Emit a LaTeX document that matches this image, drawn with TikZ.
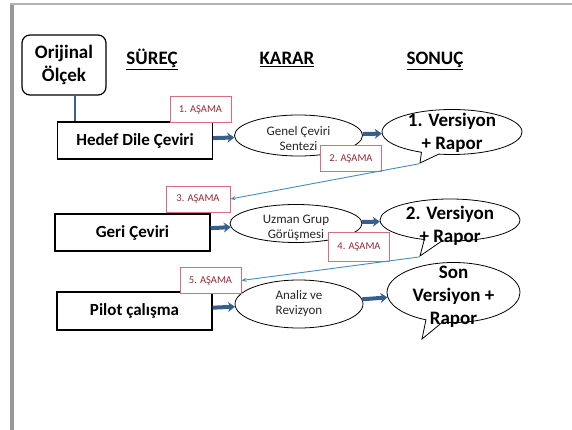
\documentclass[tikz,border=0pt]{standalone}
\usepackage{fontspec}
\setmainfont{Carlito}
\usetikzlibrary{shapes,arrows.meta,positioning,calc}

\definecolor{flowblue}{RGB}{55,95,140}
\definecolor{linkblue}{RGB}{70,140,185}
\definecolor{stagered}{RGB}{215,110,125}
\definecolor{stagetext}{RGB}{150,40,50}

\begin{document}
\begin{tikzpicture}[x=1pt, y=-1pt,
    origin/.style={draw, rounded corners=8pt, line width=1.2pt, minimum width=84pt, minimum height=60pt, inner sep=0pt, align=center, font=\fontsize{19}{23}\selectfont\bfseries},
    header/.style={anchor=base, font=\fontsize{19}{23}\selectfont\bfseries},
    stepbox/.style={draw, line width=1.1pt, minimum width=155pt, minimum height=37pt, inner sep=0pt, font=\fontsize{17}{20}\selectfont\bfseries},
    decision/.style={draw, ellipse, line width=0.8pt, inner sep=0pt, minimum width=128pt, minimum height=41pt},
    dtext/.style={font=\fontsize{13}{15}\selectfont, text=black!85, align=center},
    result/.style={draw, ellipse callout, line width=0.8pt, inner sep=0pt, minimum width=140pt, minimum height=45pt},
    rtext/.style={font=\fontsize{19}{23}\selectfont\bfseries, align=center},
    stage/.style={draw=stagered, fill=white, line width=0.8pt, inner sep=0pt, minimum width=61pt, minimum height=26pt, text=stagetext, font=\fontsize{10.5}{11}\selectfont},
    flow/.style={-{Stealth[length=7pt,width=10pt]}, line width=4pt, draw=flowblue},
    link/.style={-{Stealth[length=5pt,width=4pt]}, line width=0.9pt, draw=linkblue},
]
\useasboundingbox (0,0) rectangle (572,430);

% slide frame
\draw[line width=4pt, black!40] (11.5,430) -- (11.5,4);
\draw[line width=2.5pt, black!30] (10,4) -- (572,4);

% Headers
\node[origin] (orj) at (64,65) {Orijinal\\Ölçek};
\node[header] (surec) at (152,65) {\underline{SÜREÇ}};
\node[header] (karar) at (287,65) {\underline{KARAR}};
\node[header] (sonuc) at (435,65) {\underline{SONUÇ}};

% Process
\node[stepbox] (hedef) at (135,140.5) {Hedef Dile Çeviri};
\node[stepbox] (geri) at (132.5,232.5) {Geri Çeviri};
\node[stepbox, minimum height=38pt] (pilot) at (134.5,311) {Pilot çalışma};

% Decision
\node[decision, minimum height=41pt, label={[dtext, yshift=-3pt]center:Genel Çeviri\\Sentezi}] (gen) at (298.5,135.5) {};
\node[decision, minimum width=132pt, minimum height=38pt, label={[dtext, yshift=-4pt]center:Uzman Grup\\Görüşmesi}] (uzm) at (296,223.5) {};
\node[decision, minimum height=48pt, label={[dtext]center:Analiz ve\\Revizyon}] (anl) at (299,304) {};

% Result
\node[result, callout absolute pointer={(420,163)}, label={[rtext, yshift=-1pt]center:1. Versiyon\\+ Rapor}] (v1) at (452,132) {};
\node[result, minimum height=42pt, callout absolute pointer={(420,256)}, label={[rtext, yshift=-6pt]center:2. Versiyon\\+ Rapor}] (v2) at (450,220) {};
\node[result, minimum width=133pt, minimum height=60pt, callout absolute pointer={(422,339)}, label={[rtext, yshift=-4pt]center:Son\\Versiyon +\\Rapor}] (son) at (453.5,292.5) {};

% Edges
\draw[line width=1.3pt, flowblue] (orj.-70) -- (orj.-70 |- hedef.north);
\draw[flow] (hedef) -- (gen);
\draw[flow] (gen) -- (v1);
\draw[flow] (geri) -- (uzm);
\draw[flow] (uzm) -- (v2);
\draw[flow] (pilot) -- (anl);
\draw[flow] (anl) -- (son);

% Stages
\node[stage] (a1) at (200.5,109.5) {1. AŞAMA};
\node[stage] (a2) at (351,158.5) {2. AŞAMA};
\node[stage, minimum width=64pt] (a3) at (198,199) {3. AŞAMA};
\node[stage, minimum height=29pt] (a4) at (359,246.5) {4. AŞAMA};
\node[stage] (a5) at (210.5,280.5) {5. AŞAMA};

\draw[link] (v1.pointer) -- (a3.east);
\draw[link] (v2.pointer) -- (a5.east);

\end{tikzpicture}
\end{document}
